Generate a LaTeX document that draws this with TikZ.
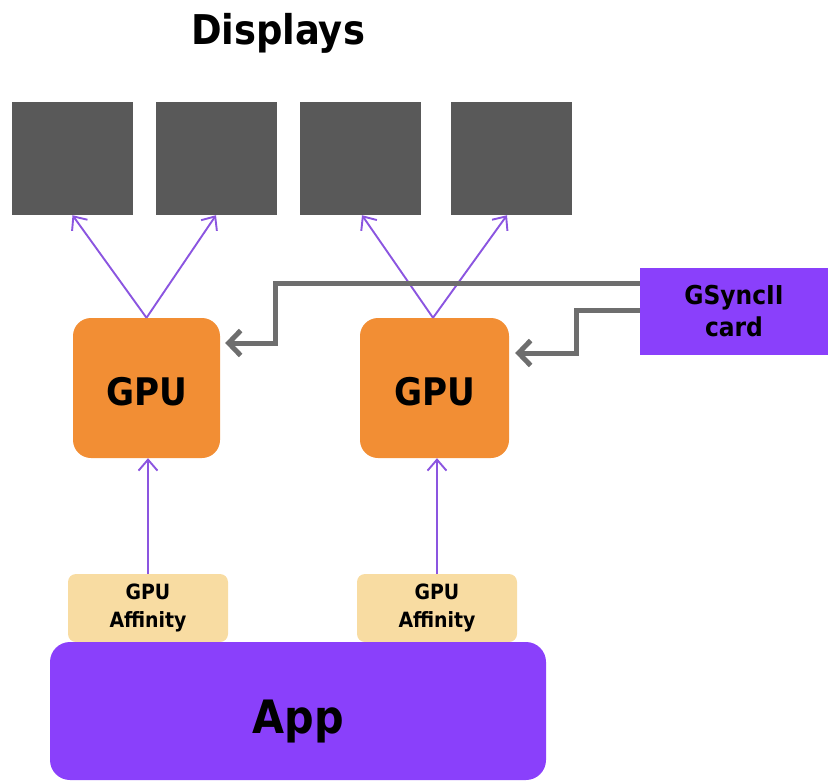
\documentclass[tikz,border=0pt]{standalone}
\usepackage{fontspec}
\setmainfont{DejaVu Sans Condensed}
\usetikzlibrary{arrows.meta}
\definecolor{dispgray}{HTML}{595959}
\definecolor{gpuorange}{HTML}{F28E34}
\definecolor{affintan}{HTML}{F8DCA2}
\definecolor{apppurple}{HTML}{8A40FB}
\definecolor{linkpurple}{HTML}{8B55E0}
\definecolor{wiregray}{HTML}{6E6E6E}
\tikzset{
  display/.style={fill=dispgray, minimum width=121pt, minimum height=113pt, inner sep=0pt},
  gpubox/.style={fill=gpuorange, rounded corners=18pt, minimum width=147pt, minimum height=140pt,
    font=\fontsize{38}{42}\selectfont\bfseries},
  affbox/.style={fill=affintan, rounded corners=8pt, minimum width=160pt, minimum height=68pt,
    align=center, font=\fontsize{21}{28}\selectfont\bfseries},
  link/.style={linkpurple, line width=1.9pt, -{Straight Barb[length=11pt,width=19pt,line width=1.9pt]}},
  wire/.style={wiregray, line width=5pt, -{Straight Barb[length=12pt,width=25pt,line width=5pt]}}
}
\begin{document}
\begin{tikzpicture}[x=1pt, y=-1pt]
  \useasboundingbox (0,0) rectangle (828,782);
  % title and the four displays
  \node[font=\fontsize{41}{46}\selectfont\bfseries] (title) at (278,33) {Displays};
  \node[display] (d1) at (72.5,158.5) {};
  \node[display] (d2) at (216,158.5) {};
  \node[display] (d3) at (360.5,158.5) {};
  \node[display] (d4) at (511.5,158.5) {};

  % GPUs and sync card
  \node[gpubox] (gpu1) at (146.5,388) {\raisebox{-4pt}[\height][\depth]{GPU}};
  \node[gpubox, minimum width=149pt] (gpu2) at (434.5,388) {\raisebox{-4pt}[\height][\depth]{GPU}};
  \node[fill=apppurple, minimum width=188pt, minimum height=87pt, align=center,
    font=\fontsize{26}{32}\selectfont\bfseries] (card) at (734,311.5) {GSyncII\\card};

  % affinity masks on top of the app
  \node[affbox] (aff1) at (148,608) {GPU\\Affinity};
  \node[affbox] (aff2) at (437,608) {GPU\\Affinity};
  \node[fill=apppurple, rounded corners=20pt, minimum width=496pt, minimum height=138pt,
    font=\fontsize{46}{50}\selectfont\bfseries] (app) at (298,711) {\raisebox{-11pt}[\height][\depth]{App}};

  % GPU to display links
  \draw[link] (gpu1.north) -- (d1.south);
  \draw[link] (gpu1.north) -- (d2.south);
  \draw[link] ([xshift=-1.5pt]gpu2.north) -- ([xshift=1.5pt]d3.south);
  \draw[link] ([xshift=-1.5pt]gpu2.north) -- ([xshift=-4.5pt]d4.south);

  % affinity to GPU
  \draw[link] (aff1.north) -- (aff1.north |- gpu1.south);
  \draw[link] (aff2.north) -- (aff2.north |- gpu2.south);

  % sync wires
  \draw[wire, shorten >=5pt] ([yshift=28.5pt]card.west) -| (275,343) -- ([yshift=45pt]gpu1.east);
  \draw[wire, shorten >=6pt] ([yshift=1.5pt]card.west) -| (576,353) -- ([yshift=35pt]gpu2.east);
\end{tikzpicture}
\end{document}
